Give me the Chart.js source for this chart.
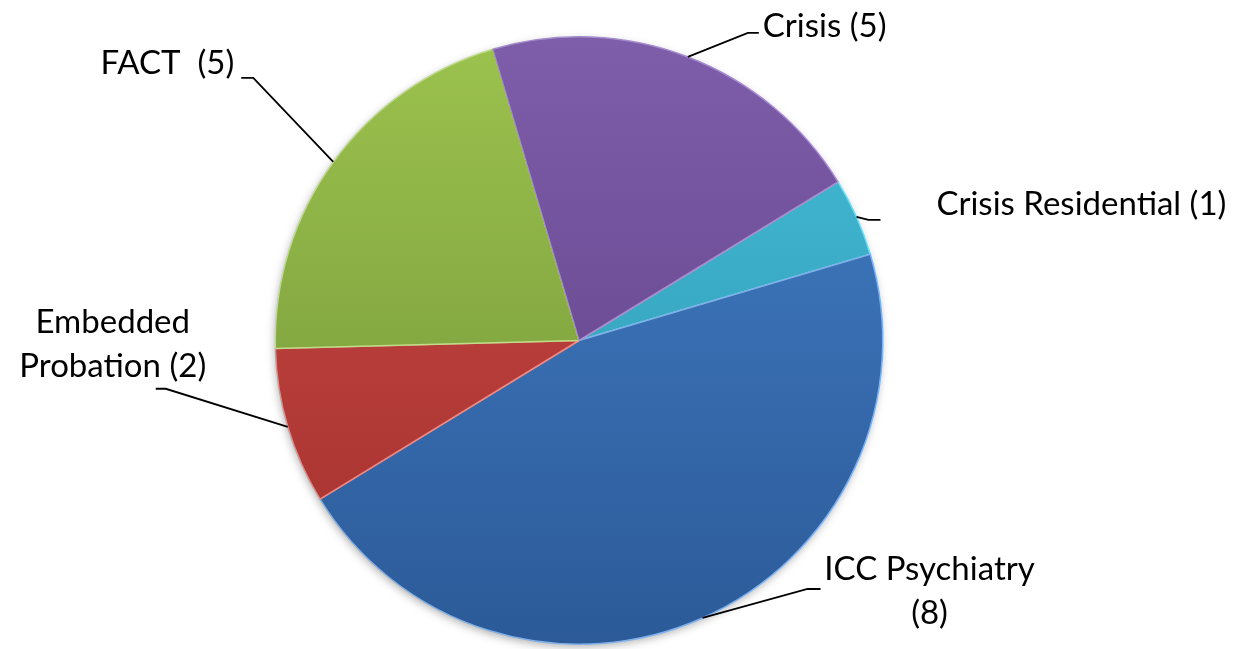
<!DOCTYPE html>
<html>
<head>
<meta charset="utf-8">
<script src="https://cdn.jsdelivr.net/npm/chart.js@4/dist/chart.umd.min.js"></script>
<style>
  html, body { margin: 0; padding: 0; background: #ffffff; }
  #wrap { width: 1247px; height: 649px; position: relative; }
</style>
</head>
<body>
<div id="wrap"><canvas id="c" width="1247" height="649"></canvas></div>
<script>
// ---- data ----
const categories = [
  ["Crisis Residential (1)"],
  ["ICC Psychiatry", "(8)"],
  ["Embedded", "Probation (2)"],
  ["FACT  (5)"],
  ["Crisis (5)"]
];
const values = [1, 11, 2, 5, 5];

// ---- styling ----
const topColors    = ["#45bdd8", "#4380c8", "#cc4a46", "#9cc24e", "#7e5daa"];
const bottomColors = ["#2c93ad", "#2c5a98", "#a2302d", "#6f9136", "#5c3f82"];
const edgeColors   = ["#7fd6ea", "#7fb0ea", "#e98a87", "#bfdc87", "#a58ccb"];

// label layout: leader elbow offset from slice edge point, horizontal tail, text anchor from tail end
const labelLayout = [
  { elbow: [12, 3],    tail: 12,  align: "left",   tx: 56,  ty: [-5] },
  { elbow: [105, -29], tail: 13,  align: "center", tx: 109, ty: [-9, 35] },
  { elbow: [-122, -38], tail: -10, align: "center", tx: -43, ty: [-56, -12] },
  { elbow: [-80, -84], tail: -12, align: "right",  tx: -7,  ty: [-4] },
  { elbow: [60, -24],  tail: 11,  align: "left",   tx: 4,   ty: [4] }
];
const FONT = "33px Lato";

function sliceGradient(ctx) {
  const chart = ctx.chart;
  const area = chart.chartArea;
  const i = ctx.dataIndex;
  if (!area) return topColors[i];
  const g = chart.ctx.createLinearGradient(0, area.top, 0, area.bottom);
  g.addColorStop(0, topColors[i]);
  g.addColorStop(1, bottomColors[i]);
  return g;
}

const shadowPlugin = {
  id: "pieShadow",
  beforeDatasetsDraw(chart) {
    const arc = chart.getDatasetMeta(0).data[0];
    if (!arc) return;
    const ctx = chart.ctx;
    ctx.save();
    ctx.shadowColor = "rgba(0,0,0,0.35)";
    ctx.shadowBlur = 10;
    ctx.shadowOffsetX = -1;
    ctx.shadowOffsetY = 3;
    ctx.beginPath();
    ctx.arc(arc.x, arc.y, arc.outerRadius - 1, 0, Math.PI * 2);
    ctx.fillStyle = "#ffffff";
    ctx.fill();
    ctx.restore();
  }
};

const labelPlugin = {
  id: "leaderLabels",
  afterDatasetsDraw(chart) {
    const ctx = chart.ctx;
    const meta = chart.getDatasetMeta(0);
    ctx.save();
    ctx.font = FONT;
    ctx.fillStyle = "#000000";
    ctx.strokeStyle = "#000000";
    ctx.lineWidth = 1.8;
    ctx.textBaseline = "alphabetic";
    meta.data.forEach((arc, i) => {
      const mid = (arc.startAngle + arc.endAngle) / 2;
      const sx = arc.x + Math.cos(mid) * arc.outerRadius;
      const sy = arc.y + Math.sin(mid) * arc.outerRadius;
      const L = labelLayout[i];
      const ex = sx + L.elbow[0], ey = sy + L.elbow[1];
      const tx = ex + L.tail;
      ctx.beginPath();
      ctx.moveTo(sx, sy);
      ctx.lineTo(ex, ey);
      ctx.lineTo(tx, ey);
      ctx.stroke();
      ctx.textAlign = L.align;
      categories[i].forEach((line, k) => {
        ctx.fillText(line, tx + L.tx, ey + L.ty[k]);
      });
    });
    ctx.restore();
  }
};

new Chart(document.getElementById("c"), {
  type: "pie",
  data: {
    labels: categories.map(c => c.join(" ")),
    datasets: [{
      data: values,
      backgroundColor: sliceGradient,
      borderColor: edgeColors,
      borderWidth: 1.5
    }]
  },
  options: {
    responsive: false,
    animation: false,
    events: [],
    rotation: 58.5,
    layout: { padding: { left: 0, right: 89, top: 36, bottom: 4 } },
    plugins: {
      legend: { display: false },
      tooltip: { enabled: false }
    }
  },
  plugins: [shadowPlugin, labelPlugin]
});
</script>
</body>
</html>
